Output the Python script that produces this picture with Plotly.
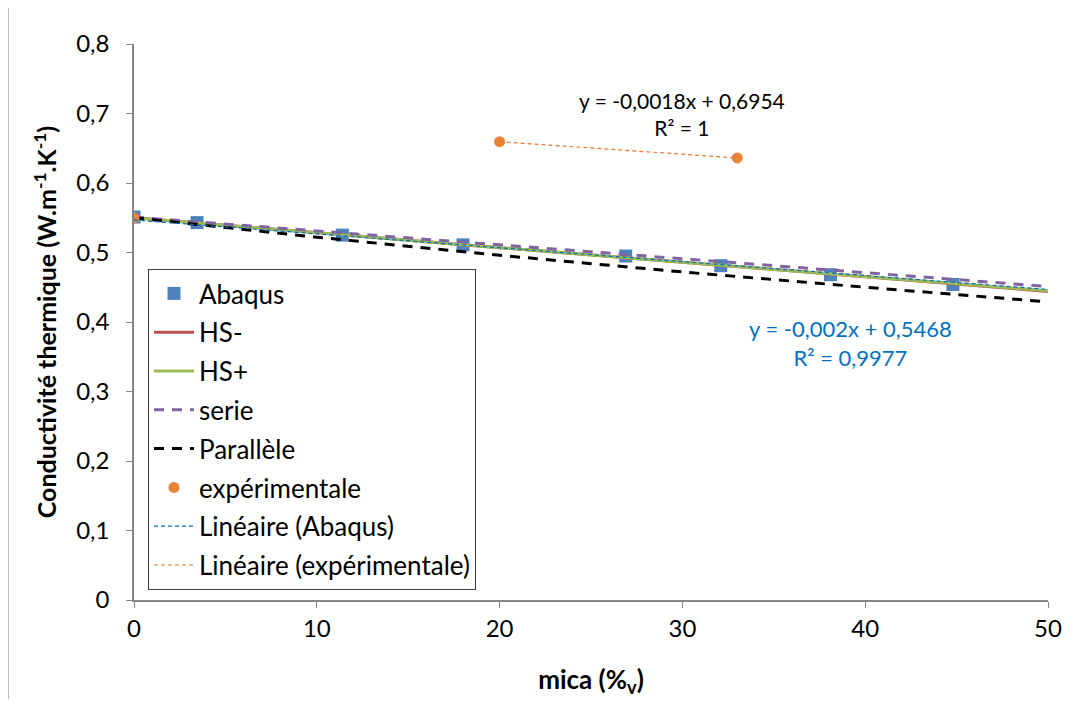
import numpy as np
import plotly.graph_objects as go

# ---- data ----
abaqus_x = [0, 3.45, 11.4, 18.0, 26.9, 32.1, 38.1, 44.8]
abaqus_y = [0.551, 0.543, 0.525, 0.511, 0.495, 0.481, 0.468, 0.454]

model_x = [0, 10, 20, 30, 40, 50]
hs_minus = [0.550, 0.528, 0.507, 0.486, 0.465, 0.444]
hs_plus = [0.550, 0.528, 0.507, 0.486, 0.466, 0.445]
serie = [0.551, 0.531, 0.511, 0.491, 0.471, 0.451]
parallele = [0.550, 0.522, 0.496, 0.472, 0.450, 0.429]

exp_x = [20, 33]
exp_y = [0.6594, 0.636]
exp0_x = [0]
exp0_y = [0.550]

# trendline coefficients (slope, intercept) as displayed
fit_abaqus = (-0.002, 0.5468)
fit_exp = (-0.0018, 0.6954)
fit_abaqus_range = [0, 50]
fit_exp_range = [20, 33]

FONT = "Lato, 'Open Sans', sans-serif"

# page offset (8px body margin) compensated
W, H = 1064, 691
ML, MR, MT, MB = 126, 24, 36, 99
PW = W - ML - MR
PH = H - MT - MB

fig = go.Figure()

def grp(name):
    return dict(legendgroup=name)

fig.add_trace(go.Scatter(x=abaqus_x, y=abaqus_y, mode="markers", name="Abaqus",
                         marker=dict(symbol="square", size=13, color="#4F81BD"), **grp("a")))
fig.add_trace(go.Scatter(x=model_x, y=hs_minus, mode="lines", name="HS-",
                         line=dict(color="#C0504D", width=3), **grp("b")))
fig.add_trace(go.Scatter(x=model_x, y=hs_plus, mode="lines", name="HS+",
                         line=dict(color="#9BBB59", width=3), **grp("c")))
fig.add_trace(go.Scatter(x=model_x, y=serie, mode="lines", name="serie",
                         line=dict(color="#8064A2", width=3, dash="10px,8px"), **grp("d")))
fig.add_trace(go.Scatter(x=model_x, y=parallele, mode="lines", name="Parallèle",
                         line=dict(color="black", width=3, dash="10px,8px"), **grp("e")))
fig.add_trace(go.Scatter(x=exp_x, y=exp_y, mode="markers", name="expérimentale",
                         marker=dict(symbol="circle", size=11, color="#E8843A"), **grp("f")))
fig.add_trace(go.Scatter(x=exp0_x, y=exp0_y, mode="markers", showlegend=False,
                         marker=dict(symbol="circle", size=11, color="#E8843A"), **grp("f")))

xa = np.array(fit_abaqus_range, dtype=float)
fig.add_trace(go.Scatter(x=xa, y=fit_abaqus[0] * xa + fit_abaqus[1], mode="lines",
                         name="Linéaire (Abaqus)",
                         line=dict(color="#0070C0", width=1.2, dash="4px,3px"), **grp("g")))
xe = np.array(fit_exp_range, dtype=float)
fig.add_trace(go.Scatter(x=xe, y=fit_exp[0] * xe + fit_exp[1], mode="lines",
                         name="Linéaire (expérimentale)",
                         line=dict(color="#E0782F", width=1.2, dash="4px,3px"), **grp("h")))

fig.add_annotation(x=30.0, y=0.700, xref="x", yref="y",
                   text="y = -0,0018x + 0,6954<br>R² = 1", showarrow=False,
                   font=dict(family=FONT, size=21, color="black"), align="center")
fig.add_annotation(x=39.2, y=0.370, xref="x", yref="y",
                   text="y = -0,002x + 0,5468<br>R² = 0,9977", showarrow=False,
                   font=dict(family=FONT, size=22, color="#0070C0"), align="center")

# outer chart border (left edge visible)
fig.add_shape(type="line", xref="paper", yref="paper",
              x0=-ML / PW, x1=-ML / PW, y0=-MB / PH, y1=1 + MT / PH,
              line=dict(color="#A6A6A6", width=1.5))

fig.update_layout(
    width=W, height=H,
    margin=dict(l=ML, r=MR, t=MT, b=MB),
    paper_bgcolor="white", plot_bgcolor="white",
    separators=", ",
    font=dict(family=FONT, size=24, color="black"),
    showlegend=True,
    legend=dict(x=(140 - ML) / PW, y=(590 - 259) / PH, xanchor="left", yanchor="top",
                bgcolor="white", bordercolor="#404040", borderwidth=1,
                font=dict(family=FONT, size=26, color="black"),
                tracegroupgap=2, itemwidth=40),
    xaxis=dict(range=[0, 50], dtick=10, showgrid=False, zeroline=False,
               showline=True, linecolor="#868686", linewidth=1.5,
               ticks="outside", ticklen=6, tickcolor="#868686",
               tickfont=dict(family=FONT, size=24), automargin=False,
               title=dict(text="<b>mica (%<sub>v</sub>)</b>", font=dict(family=FONT, size=26),
                          standoff=30)),
    yaxis=dict(range=[0, 0.8], dtick=0.1, showgrid=False, zeroline=False,
               showline=True, linecolor="#868686", linewidth=1.5,
               ticks="outside", ticklen=6, tickcolor="#868686",
               ticklabelstandoff=12, automargin=False,
               tickfont=dict(family=FONT, size=24),
               title=dict(text="<b>Conductivité thermique (W.m<sup>-1</sup>.K<sup>-1</sup>)</b>",
                          font=dict(family=FONT, size=25), standoff=12)),
)

fig.write_html("out.html")
